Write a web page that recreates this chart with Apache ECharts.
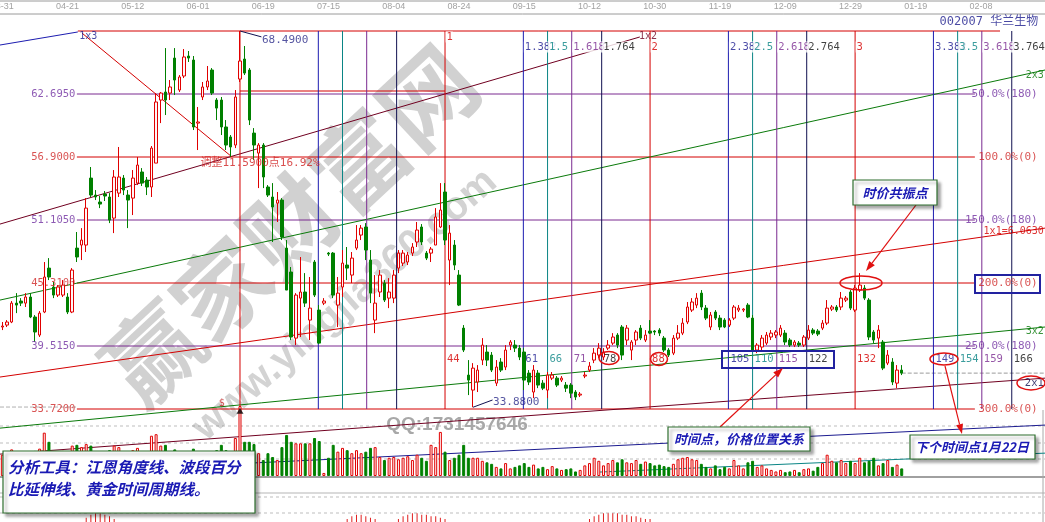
<!DOCTYPE html>
<html><head><meta charset="utf-8">
<script src="https://cdn.jsdelivr.net/npm/echarts/dist/echarts.min.js"></script>
<style>html,body{margin:0;padding:0;background:#fff}#c{width:1045px;height:522px}</style>
</head><body><div id="c"></div>
<script>
// ---------- data ----------
const opens = [41.26,41.44,41.72,43.46,43.65,43.46,44.02,42.18,40.52,42.64,
46.68,44.94,44.20,44.20,44.02,42.64,48.52,48.80,48.80,54.96,
53.40,52.76,53.49,53.22,51.28,53.58,54.96,53.40,53.12,54.50,
55.52,54.78,54.14,56.34,62.14,62.88,62.78,66.00,63.06,64.35,
66.19,65.82,60.02,62.42,63.34,64.90,62.14,62.14,59.66,58.74,
58.00,64.07,65.91,64.90,59.10,57.26,58.00,54.14,53.22,52.66,
52.94,48.52,46.32,40.24,43.92,44.48,41.90,47.24,42.82,43.46,
48.06,48.06,43.28,44.94,46.96,46.04,48.52,49.72,50.46,47.42,
41.90,44.48,45.30,43.92,43.92,46.68,47.14,47.24,48.06,49.08,
50.46,48.06,48.06,48.80,50.46,53.68,47.42,48.80,46.04,41.16,
36.84,35.46,36.20,38.22,38.96,38.68,36.10,38.04,37.58,39.60,
39.60,39.32,38.96,37.02,35.28,37.02,36.10,35.46,36.56,36.56,
36.38,35.92,35.92,35.28,35.00,36.75,37.30,38.22,38.68,38.50,
39.32,39.78,40.52,41.26,40.06,39.14,40.06,41.16,40.06,40.89,
40.89,40.98,40.24,39.14,38.86,40.24,40.70,41.72,42.82,43.28,
44.38,43.00,41.26,42.64,42.08,41.90,41.44,42.08,42.82,42.82,
43.28,42.08,39.14,39.42,39.78,40.34,40.52,40.52,40.70,40.06,
39.60,39.78,39.60,40.24,40.98,40.89,41.16,41.62,42.91,43.10,
43.10,43.74,44.48,42.82,44.66,44.84,43.74,40.80,40.24,39.88,
37.94,38.04,36.10,37.30];
const closes = [41.35,41.72,43.46,43.28,43.46,44.02,42.18,40.80,42.54,45.86,
45.86,44.20,44.94,45.12,42.64,46.50,47.70,49.26,52.20,53.40,
53.22,52.57,53.31,51.10,55.06,55.06,53.86,52.94,54.96,56.16,
54.50,54.14,57.72,61.96,62.78,62.14,63.34,63.98,64.26,66.10,
66.00,59.66,60.12,63.34,63.89,62.78,61.40,59.66,58.00,57.82,
62.42,65.73,64.62,60.30,58.00,58.00,55.06,53.40,52.30,52.94,
49.54,44.66,40.34,44.20,44.48,43.46,43.00,44.20,39.78,43.65,
47.97,44.20,44.38,47.14,46.68,47.60,49.26,50.36,48.34,44.38,
43.46,46.04,43.74,44.48,46.04,48.06,48.06,47.88,48.62,50.18,
49.08,47.60,48.43,51.38,52.02,49.26,49.90,46.96,43.28,39.14,
36.38,37.48,37.30,39.60,38.22,37.30,37.58,37.30,39.14,39.88,
39.32,38.50,36.38,36.20,37.30,35.92,35.64,36.84,36.84,35.92,
36.56,35.64,35.18,34.82,35.09,36.84,37.67,38.86,39.32,38.96,
39.60,40.34,39.60,38.68,41.16,39.88,40.80,40.24,40.52,40.70,
40.80,40.70,39.14,38.68,40.24,40.70,41.62,43.10,43.56,43.92,
43.10,42.08,42.36,42.08,41.26,41.26,41.90,43.10,43.00,42.91,
42.18,39.14,39.60,40.24,40.52,40.70,40.80,41.16,39.88,39.60,
39.88,39.60,40.34,40.98,40.70,40.61,41.62,43.00,43.10,42.82,
43.92,43.92,43.00,44.84,45.12,43.92,40.34,40.06,40.98,37.48,
38.68,36.20,37.30,37.02];
const lows = [40.98,41.26,41.62,42.54,43.19,43.10,42.08,39.88,40.34,42.54,
45.58,43.92,44.02,44.02,42.45,42.54,47.24,47.42,48.16,53.22,
52.94,52.20,52.85,50.82,49.90,53.22,53.40,50.36,51.56,54.32,
54.23,53.40,53.22,56.34,60.02,60.76,62.14,62.60,62.88,64.16,
65.64,59.38,57.54,62.14,63.06,62.60,60.30,58.92,57.54,56.90,
57.72,63.80,64.44,59.84,56.62,54.04,54.04,53.22,49.08,50.92,
49.26,44.66,40.06,39.60,40.34,43.10,40.06,44.02,39.69,43.28,
47.79,43.92,41.26,44.02,45.58,45.30,48.34,49.26,47.42,43.46,
40.70,44.02,43.56,43.00,43.46,46.22,46.87,46.96,47.79,48.62,
48.80,47.42,47.24,48.80,50.36,48.80,45.12,46.50,43.19,38.96,
35.00,33.88,35.28,37.76,37.67,37.12,35.83,37.12,37.30,39.14,
38.96,38.22,35.46,35.92,34.72,35.64,35.46,34.72,36.38,35.74,
36.20,35.28,34.72,34.54,34.82,36.56,37.12,37.94,38.40,38.22,
39.14,39.60,39.32,38.22,39.60,38.22,39.60,40.06,39.88,40.61,
40.52,40.43,38.96,38.50,38.68,40.06,40.52,41.53,42.64,43.00,
42.82,41.90,40.98,41.90,40.98,41.16,41.26,41.90,42.64,42.64,
42.08,38.96,38.86,39.14,39.60,40.06,40.24,40.34,39.60,39.42,
39.42,39.42,39.42,40.06,40.52,40.43,40.98,41.44,42.73,42.64,
42.82,43.56,42.82,42.64,44.48,43.74,40.06,39.78,39.32,37.30,
37.76,35.92,35.64,36.84];
const highs = [41.72,41.90,43.65,44.38,43.92,44.38,44.38,42.36,42.73,47.24,
47.60,45.40,45.12,45.58,44.38,46.68,50.00,50.36,53.12,55.98,
53.86,53.31,53.77,53.58,55.70,57.82,55.24,53.86,55.70,56.90,
55.88,55.06,57.91,62.78,62.88,66.92,63.98,66.92,64.44,66.83,
66.65,66.19,61.50,63.80,65.27,65.08,62.32,62.42,60.30,58.92,
63.06,68.49,67.11,65.08,59.56,58.18,58.18,54.32,54.50,53.68,
53.12,49.26,46.78,44.38,47.70,46.22,45.86,47.42,43.28,43.92,
48.16,48.16,45.86,48.34,48.62,48.16,50.64,50.64,50.82,48.34,
46.04,46.50,45.58,45.76,46.50,48.34,48.34,48.16,48.98,50.92,
50.73,48.25,48.62,52.20,54.50,54.50,50.64,49.26,46.50,41.44,
38.22,37.94,37.76,40.24,39.60,38.96,38.22,38.40,39.60,40.06,
40.06,39.60,39.32,37.30,37.76,37.30,36.38,37.12,37.12,36.75,
36.75,36.20,36.10,35.46,35.28,37.12,38.04,39.32,39.78,39.32,
40.06,40.70,40.70,41.44,41.44,40.06,40.98,41.44,40.98,41.90,
40.98,41.16,40.43,39.32,40.52,41.44,42.08,43.56,43.92,44.38,
44.66,43.28,42.64,42.82,42.36,42.08,42.08,43.28,43.28,43.00,
43.46,42.36,39.78,40.52,40.80,40.98,40.98,41.44,40.98,40.24,
40.06,39.97,40.52,41.44,41.16,41.07,41.90,43.74,43.28,43.28,
44.48,44.11,44.66,45.12,46.22,45.12,43.92,40.98,41.44,40.06,
39.14,38.40,37.76,37.76];
const volumes = [28,22,35,30,25,27,30,33,36,57,
45,30,28,33,30,40,41,38,42,40,
30,26,24,34,40,38,30,28,34,37,
30,32,53,55,40,41,30,35,28,32,
26,36,30,30,28,32,34,41,34,30,
50,92,45,45,42,30,21,30,25,21,
38,54,45,43,43,43,43,50,46,4,
24,41,32,37,34,30,34,30,32,37,
38,25,21,24,25,22,24,26,21,28,
24,20,41,38,58,32,21,24,28,41,
24,24,24,20,18,16,12,10,17,10,
12,14,17,12,15,10,12,9,13,10,
8,9,10,6,8,14,17,24,20,14,
17,21,18,22,18,17,21,16,19,17,
14,15,13,12,16,22,24,25,22,21,
16,12,10,14,9,12,10,21,14,10,
18,20,12,14,10,8,6,8,5,6,
8,5,9,10,7,12,17,28,20,18,
21,17,20,17,24,18,20,24,14,17,
21,12,15,10];
// lower pane: only the tips of the red histogram bars are visible at the very bottom
const lowerBars = [
  [18,1.5],[19,2.5],[20,3],[21,3],[22,2.5],[23,2],[24,1],
  [74,1],[75,2],[76,2.5],[77,2.5],[78,2],[79,1.5],[80,1],
  [85,1],[86,2],[87,2.5],[88,3],[89,3],[90,2.5],[91,2.5],[92,2],[93,2],[94,1.5],[95,1],
  [126,1],[127,2],[128,2.5],[129,3],[130,3],[131,3],[132,3],[133,2.5],[134,2.5],[135,2],[136,2],[137,1.5],[138,1],[139,1]
];

const dateLabels = ['03-31','04-21','05-12','06-01','06-19','07-15','08-04','08-24','09-15','10-12','10-30','11-19','12-09','12-29','01-19','02-08'];
const dateStep = 14;
const levelPrices = [62.695, 56.90, 51.105, 45.31, 39.515, 33.72];
const levelPriceText = ['62.6950','56.9000','51.1050','45.3100','39.5150','33.7200'];
const levelPctText = ['50.0%(180)','100.0%(0)','150.0%(180)','200.0%(0)','250.0%(180)','300.0%(0)'];
const highPrice = 68.49, lowPrice = 33.88, lowBar = 101;
const peakBar = 51, cycleBars = 44;
const timeRatios = [0, 0.382, 0.5, 0.618, 0.764];
const cycles = [0, 1, 2, 3];
// Gann angle lines: [x1, price1, x2, price2]
const gannLines = [
  [-0.5, 67.2, 16.2, 68.4],
  [-0.5, 50.73, 136.8, 67.94],
  [-0.5, 43.74, 223.75, 64.90],
  [-0.5, 36.66, 223.75, 50.36],
  [-0.5, 31.96, 223.75, 41.26],
  [-0.5, 29.57, 223.75, 36.56],
  [53.1, 28.74, 223.75, 32.24],
  [128.2, 27.92, 223.75, 29.66]
];

// ---------- chart ----------
const xMin = -0.5, xMax = 223.75;
const mono = "'DejaVu Sans Mono', monospace";
const monoCjk = "'DejaVu Sans Mono', 'Noto Sans CJK SC', monospace";
const cjk = "'Noto Sans CJK SC', sans-serif";
const RED = '#d40000', PURPLE = '#7a2a90', BLUE = '#1c1cb0', TEAL = '#0a8585', NAVY = '#101050', GREEN = '#0a7a0a', MAROON = '#700020';
const ratioColors = [RED, BLUE, TEAL, PURPLE, NAVY];
const ratioTextColors = [RED, '#1c1c90', TEAL, PURPLE, '#101010'];
const levelColors = [PURPLE, RED, PURPLE, RED, PURPLE, RED];

const series = [];
function seg(p1, p2, color, width, type, z) {
  series.push({type:'line', xAxisIndex:0, yAxisIndex:0, data:[p1, p2], symbol:'none', silent:true,
    clip:false, animation:false, lineStyle:{color:color, width:width||1, type:type||'solid'}, z:z||2});
}
const labelData = [];
function lab(x, y, text, color, pos, extra) {
  labelData.push({value:[x, y], label:Object.assign({show:true, formatter:text, position:pos||'right',
    distance:1, color:color, fontFamily:mono, fontSize:10.5}, extra||{})});
}

// horizontal retracement / extension levels
seg([16.2, highPrice], [214.1, highPrice], RED);
seg([peakBar, 62.97], [peakBar + cycleBars, 62.97], RED);
levelPrices.forEach((p, i) => {
  seg([16.0, p], [208.7, p], levelColors[i]);
  lab(16.0, p, levelPriceText[i], levelColors[i] === RED ? '#d02828' : '#7030a0', 'left', {distance:1});
  lab(222.3, p, levelPctText[i], levelColors[i] === RED ? '#d02828' : '#7030a0', 'left', {fontSize:11, distance:0});
});
seg([-0.5, 33.9], [16.0, 33.9], '#b0b0b0', 1, 'dashed');
// golden time cycle lines
cycles.forEach(k => timeRatios.forEach((f, j) => {
  const x = peakBar + cycleBars * (k + f);
  if (x > xMax) return;
  seg([x, highPrice], [x, 33.72], ratioColors[j], 1, 'solid', 3);
  if (k >= 1) {
    const t = f === 0 ? String(k) : (k + f).toFixed(3).replace(/0+$/, '');
    lab(x, f === 0 && k === 1 ? 67.94 : 67.02, t, ratioTextColors[j], 'right', {backgroundColor:'#fff', padding:[0,0,0,1], distance:0});
    lab(x, 38.31, String(Math.round(cycleBars * (k + f))), ratioTextColors[j], 'right', {distance:1.5});
  }
}));
// Gann lines
const gannColors = [BLUE, MAROON, GREEN, RED, GREEN, MAROON, '#1c1c90', TEAL];
gannLines.forEach((g, i) => seg([g[0], g[1]], [g[2], g[3]], gannColors[i], 1, 'solid', 2));
seg([17.1, 68.3], [49.3, 56.9], RED);
seg([peakBar, highPrice], [55.6, 67.95], NAVY);
seg([lowBar, lowPrice], [105.2, 34.55], NAVY);
seg([193, 37.02], [223.75, 37.02], '#9a9a9a', 1, 'dashed');

// text labels
dateLabels.forEach((d, i) => lab(i * dateStep, 70.70, d, '#8a8a8a', 'inside', {fontFamily:"'Liberation Sans', sans-serif", fontSize:9}));
lab(222.6, 69.32, '002007 华兰生物', '#1c1c8c', 'left', {fontFamily:monoCjk, fontSize:12});
lab(16.2, 68.03, '1x3', '#1c1c90', 'right', {fontSize:10});
lab(136.3, 68.03, '1x2', MAROON, 'right', {fontSize:10});
lab(223.6, 64.44, '2x3', GREEN, 'left', {fontSize:10, distance:0});
lab(223.6, 50.09, '1x1=6.0630', RED, 'left', {fontSize:10, distance:0});
lab(223.6, 40.89, '3x2', GREEN, 'left', {fontSize:10, distance:0});
lab(223.6, 36.10, '2x1', '#101050', 'left', {fontSize:10.5, distance:0});
lab(55.6, 67.66, '68.4900', '#2a2a8a', 'right', {fontSize:11, distance:0});
lab(105.2, 34.36, '33.8800', '#2a2a8a', 'right', {fontSize:11, distance:0});
lab(42.4, 56.34, '调整11.5900点16.92%', '#d02020', 'right', {fontFamily:monoCjk, fontSize:11, distance:0});
lab(47.1, 34.26, '$', '#c02020', 'inside', {fontSize:10});

series.push({type:'candlestick', xAxisIndex:0, yAxisIndex:0, z:5, animation:false, barWidth:3,
  encode:{x:0, y:[1,2,3,4]},
  data: opens.map((o, i) => [i, o, closes[i], lows[i], highs[i]]),
  itemStyle:{color:'#fff6f6', color0:'#008000', borderColor:'#e00000', borderColor0:'#008000', borderWidth:1}});
series.push({type:'bar', xAxisIndex:1, yAxisIndex:1, barWidth:3, animation:false, z:4,
  data: volumes.map((v, i) => {
    const up = closes[i] >= opens[i];
    return {value:[i, v], itemStyle:{color: up ? '#fff6f6' : '#008000', borderColor: up ? '#e00000' : '#008000', borderWidth:1}};
  })});
series.push({type:'bar', xAxisIndex:2, yAxisIndex:2, barWidth:1, animation:false, z:4,
  data: lowerBars, itemStyle:{color:'#e02020'}});
series.push({type:'scatter', xAxisIndex:0, yAxisIndex:0, data:[[peakBar, 33.55]], symbol:'triangle', symbolSize:[7,6],
  itemStyle:{color:'#000'}, clip:false, silent:true, z:8, animation:false});
series.push({type:'scatter', xAxisIndex:0, yAxisIndex:0, data:labelData, symbolSize:1, itemStyle:{color:'rgba(0,0,0,0)'},
  clip:false, silent:true, z:10, animation:false, labelLayout:{hideOverlap:false}});

// ---------- annotations (graphic) ----------
const g = [];
function hline(y, x1, x2, color, w, dash) { g.push({type:'line', z:0, silent:true, shape:{x1:x1, y1:y, x2:x2, y2:y}, style:{stroke:color, lineWidth:w||1, lineDash:dash||null}}); }
hline(1, 0, 1045, '#9a9a9a');
hline(14, 0, 1045, '#9a9a9a');
[426, 443, 459].forEach(y => hline(y, 0, 1045, '#bdbdbd', 1, [3,3]));
hline(477, 0, 1045, '#a0a0a0', 2);
hline(493, 0, 1045, '#b5b5b5', 1);
[497, 513].forEach(y => hline(y, 0, 1045, '#bdbdbd', 1, [3,3]));
g.push({type:'line', z:0, silent:true, shape:{x1:1043, y1:410, x2:1043, y2:522}, style:{stroke:'#a8a8a8', lineWidth:1}});
// watermark
g.push({type:'text', z:1, silent:true, x:290, y:225, rotation:0.75, style:{text:'赢家财富网', x:0, y:0, align:'center', verticalAlign:'middle', fontSize:94, fontWeight:'bold', fontFamily:cjk, fill:'rgba(120,120,120,0.34)'}});
g.push({type:'text', z:1, silent:true, x:345, y:305, rotation:0.72, style:{text:'www.yingjia360.com', x:0, y:0, align:'center', verticalAlign:'middle', fontSize:40, fontWeight:'bold', fontFamily:"'Liberation Sans', sans-serif", fill:'rgba(120,120,120,0.33)'}});
g.push({type:'text', z:1, silent:true, x:457, y:425, style:{text:'QQ:1731457646', x:0, y:0, align:'center', verticalAlign:'middle', fontSize:19, fontWeight:'bold', fontFamily:"'Liberation Sans', sans-serif", fill:'#a8a8a8'}});
// ellipses and boxes
function ell(cx, cy, rx, ry) { g.push({type:'ellipse', z:20, silent:true, shape:{cx:cx, cy:cy, rx:rx, ry:ry}, style:{fill:null, stroke:'#e01010', lineWidth:1.5}}); }
ell(861, 283, 21, 7); ell(609, 358, 10, 6.5); ell(659, 359, 8.5, 6.5); ell(944, 359, 14, 6); ell(1031, 383, 14, 7);
function box(x, y, w, h) { g.push({type:'rect', z:20, silent:true, shape:{x:x, y:y, width:w, height:h}, style:{fill:null, stroke:'#2222a0', lineWidth:2}}); }
box(722, 351, 112, 17); box(975, 275, 65, 18);
function arrow(x1, y1, x2, y2) {
  const a = Math.atan2(y2 - y1, x2 - x1), L = 10, w = 3.5;
  const bx = x2 - L * Math.cos(a), by = y2 - L * Math.sin(a);
  const nx = -Math.sin(a) * w, ny = Math.cos(a) * w;
  g.push({type:'line', z:21, silent:true, shape:{x1:x1, y1:y1, x2:bx, y2:by}, style:{stroke:'#e01010', lineWidth:1.2}});
  g.push({type:'polygon', z:21, silent:true, shape:{points:[[x2, y2], [bx + nx, by + ny], [bx - nx, by - ny]]}, style:{fill:'#e01010'}});
}
arrow(916, 205, 866, 271);
arrow(720, 427, 783, 368);
arrow(945, 366, 962, 434);
function callout(x, y, w, h, lines, fs) {
  g.push({type:'rect', z:22, silent:true, shape:{x:x, y:y, width:w, height:h},
    style:{fill:'#fff', stroke:'#2f6f2f', lineWidth:1.2, shadowBlur:3, shadowOffsetX:3, shadowOffsetY:3, shadowColor:'rgba(0,0,0,0.35)'}});
  lines.forEach(l => g.push({type:'text', z:23, silent:true, style:{text:l[0], x:l[1], y:l[2], align:l[3], verticalAlign:'middle',
    fontSize:fs, fontStyle:'italic', fontWeight:'bold', fontFamily:cjk, fill:'#1a1ab4'}}));
}
callout(853, 180, 84, 25, [['时价共振点', 895, 193, 'center']], 13);
callout(668, 427, 142, 24, [['时间点，价格位置关系', 739, 439, 'center']], 13);
callout(910, 435, 125, 24, [['下个时间点1月22日', 972, 447, 'center']], 13);
callout(3, 451, 252, 62, [['分析工具：江恩角度线、波段百分', 8, 467, 'left'], ['比延伸线、黄金时间周期线。', 8, 489, 'left']], 15.5);

const chart = echarts.init(document.getElementById('c'), null, {renderer:'canvas', width:1045, height:522});
chart.setOption({
  animation:false,
  backgroundColor:'#fff',
  grid:[{left:0, right:0, top:31, height:378}, {left:0, right:0, top:400, height:76}, {left:0, right:0, top:493, height:29}],
  xAxis:[
    {type:'value', gridIndex:0, min:xMin, max:xMax, show:false, splitLine:{show:false}},
    {type:'value', gridIndex:1, min:xMin, max:xMax, show:false, splitLine:{show:false}},
    {type:'value', gridIndex:2, min:xMin, max:xMax, show:false, splitLine:{show:false}}
  ],
  yAxis:[
    {type:'value', gridIndex:0, min:33.72, max:68.49, show:false, splitLine:{show:false}},
    {type:'value', gridIndex:1, min:0, max:100, show:false, splitLine:{show:false}},
    {type:'value', gridIndex:2, min:0, max:10, show:false, splitLine:{show:false}}
  ],
  series:series,
  graphic:g
});
</script></body></html>
